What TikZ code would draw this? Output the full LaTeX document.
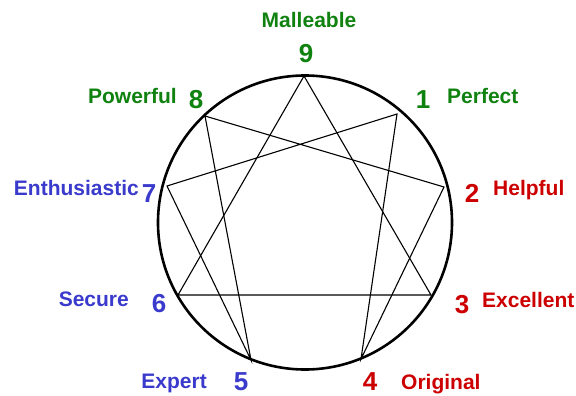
\documentclass[tikz,border=0pt]{standalone}
\usepackage{fontspec}
\setmainfont{Liberation Sans}
\definecolor{typegreen}{RGB}{16,130,16}
\definecolor{typered}{RGB}{204,0,0}
\definecolor{typeblue}{RGB}{58,58,204}
\begin{document}
\begin{tikzpicture}[x=1pt,y=-1pt,
        num/.style={anchor=base,inner sep=0pt,font=\fontsize{26}{26}\selectfont\bfseries},
        word/.style={inner sep=0pt,font=\fontsize{21}{21}\selectfont\bfseries},
        ring/.style={line width=2.6pt},
        chord/.style={line width=1.1pt}]
        \useasboundingbox (0,0) rectangle (576,396);
        \draw [ring] (305,222.5) circle [radius=147];

        % points on the circle
        \coordinate (v9) at (304,76);
        \coordinate (v1) at (397,114);
        \coordinate (v2) at (444,187);
        \coordinate (v3) at (431,295);
        \coordinate (v4) at (361,359);
        \coordinate (v5) at (251,360);
        \coordinate (v6) at (178,295);
        \coordinate (v7) at (167,186);
        \coordinate (v8) at (205,116);

        \draw [chord] (v9) -- (v3) -- (v6) -- cycle;
        \draw [chord] (v1) -- (v4) -- (v2) -- (v8) -- (v5) -- (v7) -- cycle;

        % numbers
        \node [num,typegreen] (n9) at (306,63) {9};
        \node [num,typegreen] (n1) at (423,108) {1};
        \node [num,typegreen] (n8) at (196,108) {8};
        \node [num,typered] (n2) at (472,202) {2};
        \node [num,typered] (n3) at (462,313) {3};
        \node [num,typered] (n4) at (370,390) {4};
        \node [num,typeblue] (n5) at (241,390) {5};
        \node [num,typeblue] (n6) at (159,312) {6};
        \node [num,typeblue] (n7) at (149,202) {7};

        % names
        \node [word,typegreen,anchor=base] (w9) at (309,28) {Malleable};
        \node [word,typegreen,anchor=base west] (w1) at (447,103) {Perfect};
        \node [word,typegreen,anchor=base east] (w8) at (177,103) {Powerful};
        \node [word,typered,anchor=base west] (w2) at (493,195) {Helpful};
        \node [word,typered,anchor=base west] (w3) at (482,307) {Excellent};
        \node [word,typered,anchor=base west] (w4) at (401,389) {Original};
        \node [word,typeblue,anchor=base east] (w5) at (207,388) {Expert};
        \node [word,typeblue,anchor=base east] (w6) at (129,306) {Secure};
        \node [word,typeblue,anchor=base east] (w7) at (139,195) {Enthusiastic};
\end{tikzpicture}
\end{document}
